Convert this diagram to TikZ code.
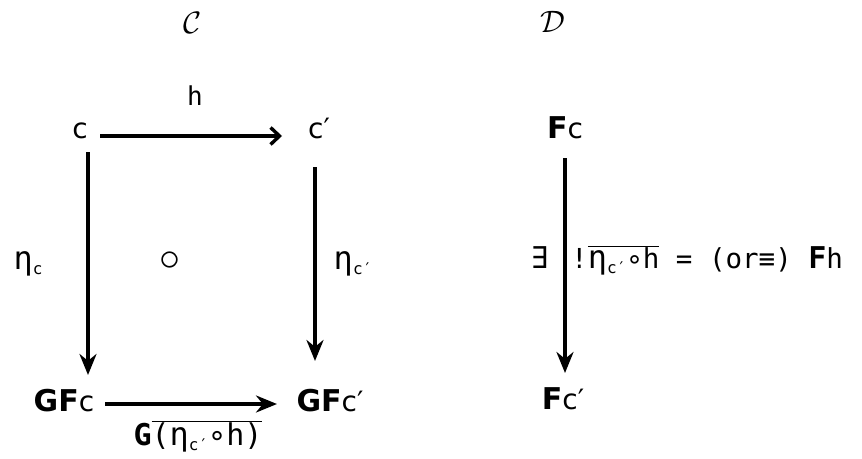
\documentclass[tikz,border=0pt]{standalone}
\usepackage{fontspec}
\setmainfont{DejaVu Sans}
\newfontfamily\monof{DejaVu Sans Mono}
\usetikzlibrary{arrows.meta,positioning,calc}
\newcommand{\etac}[1]{{\fontsize{32}{32}\selectfont η}\raisebox{-0.35ex}{\fontsize{16}{16}\selectfont #1}}
\newcommand{\bigF}[1]{{\fontsize{30}{30}\selectfont\bfseries #1}}

\begin{document}
\begin{tikzpicture}[x=1pt, y=-1pt, >=Stealth,
    obj/.style={inner sep=1pt, anchor=base, font=\fontsize{28}{30}\selectfont},
    lbl/.style={inner sep=1pt, font=\monof\fontsize{26}{28}\selectfont},
    arr/.style={line width=3.4pt, arrows={-Stealth[length=21pt, width=17pt]}},
    barb/.style={line width=3.4pt, arrows={-Straight Barb[length=9pt, width=17pt]}}]
    \useasboundingbox (0,0) rectangle (862,458);
    % Categories
    \node (catC) at (193, 23) {\scalebox{3.1}{$\mathcal{C}$}};
    \node (catD) at (553, 22) {\scalebox{3.1}{$\mathcal{D}$}};
    % Nodes of the square
    \node[obj] (c) at (80, 138) {c};
    \node[obj] (cp) at (319, 138) {c′};
    \node[obj] (GFc) at (64, 411) {\bigF{GF}c};
    \node[obj] (GFcp) at (330, 411) {\bigF{GF}c′};
    % Nodes on the right
    \node[obj] (Fc) at (565, 138) {\bigF{F}c};
    \node[obj] (Fcp) at (563, 409) {\bigF{F}c′};
    % Arrows of the square
    \coordinate (hs) at (100, 136);
    \coordinate (he) at (282, 136);
    \draw[barb] (hs) -- (he);
    \node[lbl] (h) at (195, 96) {h};
    \coordinate (ltop) at (88, 152);
    \coordinate (lbot) at (88, 375);
    \draw[arr] (ltop) -- (lbot);
    \coordinate (rtop) at (315, 167);
    \coordinate (rbot) at (315, 361);
    \draw[arr] (rtop) -- (rbot);
    \coordinate (bs) at (105, 404);
    \coordinate (be) at (277, 404);
    \draw[arr] (bs) -- (be);
    \node[lbl] (etal) at (28, 264) {\etac{c}};
    \node[lbl] (etar) at (353, 264) {\etac{c′}};
    \node (comm) at (170, 261) {\scalebox{4.2}{$\circ$}};
    \node[lbl, font=\monof\fontsize{30}{30}\selectfont] (Gbar) at (198, 436) {\bigF{G}$\overline{\hbox{(\etac{c′}∘h)}}$};
    % Right arrow
    \coordinate (ftop) at (565, 158);
    \coordinate (fbot) at (565, 373);
    \draw[arr] (ftop) -- (fbot);
    \node[lbl, font=\monof\fontsize{30}{30}\selectfont] (ex) at (540, 258) {∃};
    \node[lbl, anchor=west, font=\monof\fontsize{27.5}{28}\selectfont] (uniq) at (570, 260) {!$\overline{\hbox{\etac{c′}∘h}}$ = (or≡) \bigF{F}h};
\end{tikzpicture}
\end{document}
